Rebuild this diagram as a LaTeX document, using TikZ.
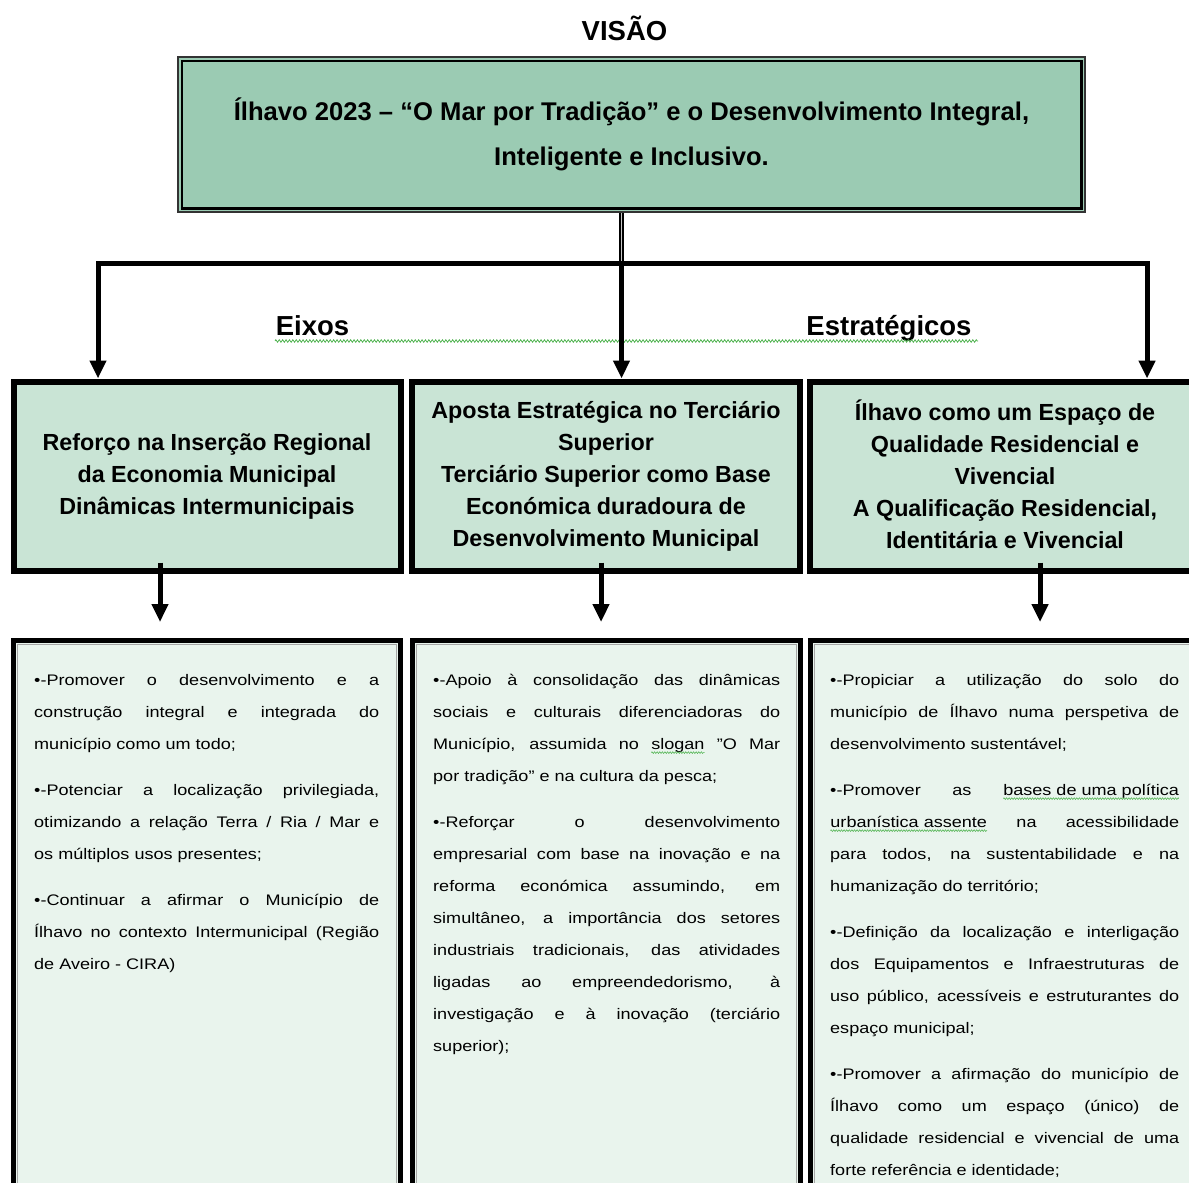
\documentclass[tikz,border=0pt]{standalone}
\usepackage{fontspec}
\setmainfont{Liberation Sans}
\newfontfamily\bodyfont[FakeStretch=1.18]{Liberation Sans}
\usetikzlibrary{arrows.meta,decorations.pathmorphing}
\definecolor{topfill}{RGB}{155,203,179}
\definecolor{midfill}{RGB}{201,228,213}
\definecolor{lowfill}{RGB}{233,244,237}
\definecolor{sqgreen}{RGB}{70,175,70}
\newcommand\sqw[1]{\tikz[baseline=(w.base)]{\node[inner sep=0pt,outer sep=0pt] (w) {#1};\draw[sqgreen,line width=0.5pt,decorate,decoration={zigzag,amplitude=0.9pt,segment length=2.6pt}] ([yshift=-3.6pt]w.base west) -- ([yshift=-3.6pt]w.base east);}}
\newcommand\colsetup{\bodyfont\fontsize{15.3}{32}\selectfont\parindent=0pt\parskip=14pt\tolerance=9999\pretolerance=-1\hyphenpenalty=10000\exhyphenpenalty=10000\hbadness=10000\rightskip=0pt\leftskip=0pt}
\begin{document}
\begin{tikzpicture}[x=1pt,y=-1pt,
  conn/.style={line width=5pt,-{Triangle[length=18pt,width=16pt]}},
  topbox/.style={draw=black!80,line width=1.5pt,fill=topfill,minimum width=907pt,minimum height=155pt,align=center,inner sep=0pt,font=\bfseries\fontsize{25.6}{45}\selectfont},
  midbox/.style={draw=black,line width=6pt,fill=midfill,minimum height=189pt,align=center,inner sep=0pt,font=\bfseries\fontsize{23.3}{32}\selectfont},
  lowbox/.style={draw=black,line width=5pt,fill=lowfill,minimum height=560pt},
  coltext/.style={anchor=base west,inner sep=0pt},
  heading/.style={font=\bfseries\fontsize{27.5}{30}\selectfont,inner sep=0pt},
]
\useasboundingbox (0,0) rectangle (1189,1183);
\clip (0,0) rectangle (1189,1183);
\fill[white] (0,0) rectangle (1189,1183);

% title
\node[heading,anchor=base] (visao) at (624.5,40) {VISÃO};

% vision box
\node[topbox] (top) at (631.5,134.5) {Ílhavo 2023 – “O Mar por Tradição” e o Desenvolvimento Integral,\\Inteligente e Inclusivo.};
\draw[line width=2.5pt] ([shift={(4.5pt,-4.5pt)}]top.north west) rectangle ([shift={(-4.5pt,4.5pt)}]top.south east);

% strategic axes
\node[midbox,minimum width=387pt] (e1) at (207,476) {Reforço na Inserção Regional\\da Economia Municipal\\Dinâmicas Intermunicipais};
\node[midbox,minimum width=388pt] (e2) at (606,476) {Aposta Estratégica no Terciário\\Superior\\Terciário Superior como Base\\Económica duradoura de\\Desenvolvimento Municipal};
\node[midbox,minimum width=390pt] (e3) at (1005,476) {\smash{Í}lhavo como um Espaço de\\Qualidade Residencial e\\Vivencial\\A Qualificação Residencial,\\Identitária e Vivencial};

% lower boxes
\node[lowbox,minimum width=387pt] (d1) at (206.5,920) {};
\node[lowbox,minimum width=388pt] (d2) at (606,920) {};
\node[lowbox,minimum width=390pt] (d3) at (1005,920) {};
\foreach \d in {d1,d2,d3}
  \draw[gray!70,line width=1pt] ([shift={(6.5pt,-6.5pt)}]\d.north west) rectangle ([shift={(-6.5pt,6.5pt)}]\d.south east);

% labels
\node[heading,anchor=base] (eixos) at (312.5,335) {Eixos};
\node[heading,anchor=base] (estr) at (889,335) {Estratégicos};
\coordinate (sqa) at (275,341);
\coordinate (sqb) at (978,341);
\draw[sqgreen,line width=0.7pt,decorate,decoration={zigzag,amplitude=1.3pt,segment length=3.4pt}] (sqa) -- (sqb);

% connectors
\coordinate (bm) at (621.5,263);
\coordinate (bl) at (98,263);
\coordinate (br) at (1147,263);
\draw[line width=1.6pt,double=gray!45,double distance=1.4pt] (top.south -| bm) -- (bm);
\draw[conn] (bm) -- (bl) -- (bl |- e1.north);
\draw[conn] (bm) -- (br) -- (br |- e3.north);
\draw[conn] (bm) -- (bm |- e2.north);

\coordinate (a1) at (160,622);
\coordinate (a2) at (601,622);
\coordinate (a3) at (1040,622);
\draw[conn] (e1.south -| a1) ++(0,-11) -- (a1);
\draw[conn] (e2.south -| a2) ++(0,-11) -- (a2);
\draw[conn] (e3.south -| a3) ++(0,-11) -- (a3);

% column texts
\node[coltext] (t1) at (34,685) {\parbox[t]{345pt}{\colsetup
•-Promover o desenvolvimento e a\linebreak construção integral e integrada do\linebreak município como um todo;\par
•-Potenciar a localização privilegiada,\linebreak otimizando a relação Terra / Ria / Mar e\linebreak os múltiplos usos presentes;\par
•-Continuar a afirmar o Município de\linebreak Ílhavo no contexto Intermunicipal (Região\linebreak de Aveiro - CIRA)}};

\node[coltext] (t2) at (433,685) {\parbox[t]{347pt}{\colsetup
•-Apoio à consolidação das dinâmicas\linebreak sociais e culturais diferenciadoras do\linebreak Município, assumida no \sqw{slogan} ”O Mar\linebreak por tradição” e na cultura da pesca;\par
•-Reforçar o desenvolvimento\linebreak empresarial com base na inovação e na\linebreak reforma económica assumindo, em\linebreak simultâneo, a importância dos setores\linebreak industriais tradicionais, das atividades\linebreak ligadas ao empreendedorismo, à\linebreak investigação e à inovação (terciário\linebreak superior);}};

\node[coltext] (t3) at (830,685) {\parbox[t]{349pt}{\colsetup
•-Propiciar a utilização do solo do\linebreak município de Ílhavo numa perspetiva de\linebreak desenvolvimento sustentável;\par
•-Promover as \sqw{bases de uma política}\linebreak \sqw{urbanística assente} na acessibilidade\linebreak para todos, na sustentabilidade e na\linebreak humanização do território;\par
•-Definição da localização e interligação\linebreak dos Equipamentos e Infraestruturas de\linebreak uso público, acessíveis e estruturantes do\linebreak espaço municipal;\par
•-Promover a afirmação do município de\linebreak Ílhavo como um espaço (único) de\linebreak qualidade residencial e vivencial de uma\linebreak forte referência e identidade;}};
\end{tikzpicture}
\end{document}
